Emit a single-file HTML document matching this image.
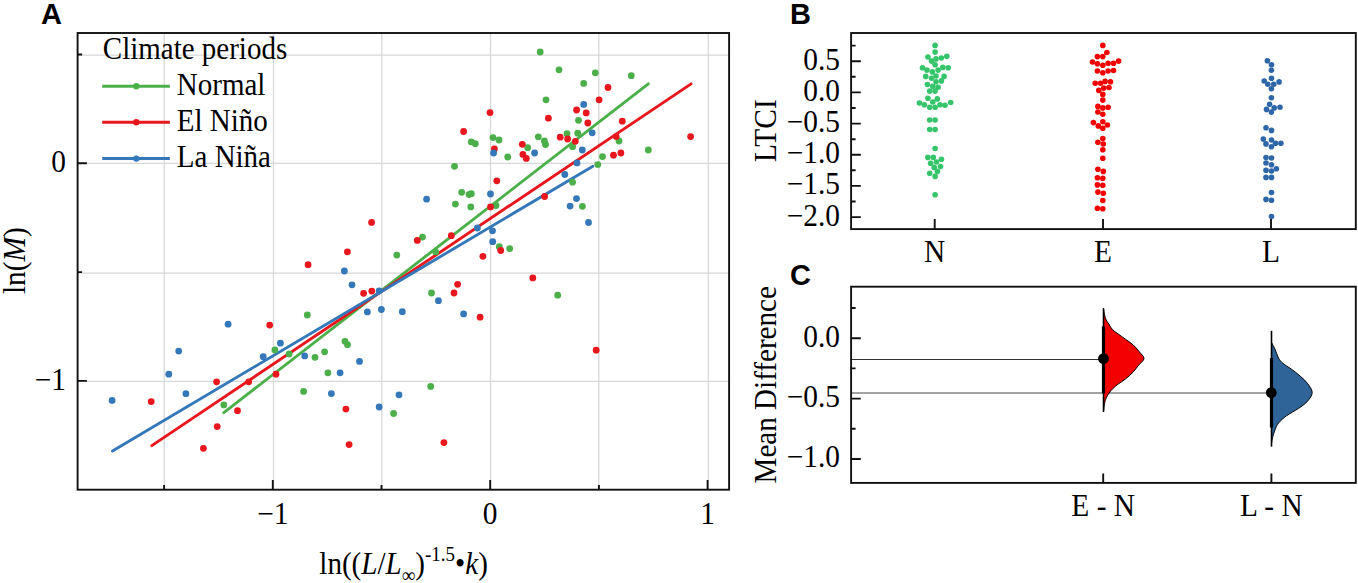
<!DOCTYPE html>
<html><head><meta charset="utf-8"><title>Figure</title>
<style>html,body{margin:0;padding:0;background:#fff;width:1358px;height:583px;overflow:hidden}svg{display:block}</style>
</head><body><svg width="1358" height="583" viewBox="0 0 1358 583"><path d="M164.2 33.0V489.7M273.5 33.0V489.7M381.8 33.0V489.7M490.5 33.0V489.7M598.8 33.0V489.7M708.3 33.0V489.7M77.6 55.2H729.1M77.6 163.4H729.1M77.6 273.2H729.1M77.6 381.4H729.1" stroke="#d8d8d8" stroke-width="1.3" fill="none"/><line x1="223.8" y1="412.6" x2="648.3" y2="83.9" stroke="#4cb04a" stroke-width="2.9" stroke-linecap="round"/><line x1="151.8" y1="445.6" x2="691.1" y2="83.9" stroke="#e8171d" stroke-width="2.9" stroke-linecap="round"/><line x1="112.5" y1="451.0" x2="592.9" y2="166.2" stroke="#3478b9" stroke-width="2.9" stroke-linecap="round"/><circle cx="540.2" cy="52" r="3.4" fill="#4cb04a"/><circle cx="559" cy="69.8" r="3.4" fill="#4cb04a"/><circle cx="595.3" cy="72.8" r="3.4" fill="#4cb04a"/><circle cx="583.7" cy="83.4" r="3.4" fill="#4cb04a"/><circle cx="546" cy="99.8" r="3.4" fill="#4cb04a"/><circle cx="578.5" cy="120.3" r="3.4" fill="#4cb04a"/><circle cx="567" cy="133.7" r="3.4" fill="#4cb04a"/><circle cx="577.7" cy="133.2" r="3.4" fill="#4cb04a"/><circle cx="538.3" cy="136.8" r="3.4" fill="#4cb04a"/><circle cx="544.4" cy="141" r="3.4" fill="#4cb04a"/><circle cx="545.5" cy="144.5" r="3.4" fill="#4cb04a"/><circle cx="493" cy="137.6" r="3.4" fill="#4cb04a"/><circle cx="499" cy="140" r="3.4" fill="#4cb04a"/><circle cx="471.3" cy="141.9" r="3.4" fill="#4cb04a"/><circle cx="475.3" cy="143.7" r="3.4" fill="#4cb04a"/><circle cx="527.7" cy="147.7" r="3.4" fill="#4cb04a"/><circle cx="507.7" cy="157" r="3.4" fill="#4cb04a"/><circle cx="572.6" cy="146.7" r="3.4" fill="#4cb04a"/><circle cx="454.5" cy="166.3" r="3.4" fill="#4cb04a"/><circle cx="572.6" cy="182.2" r="3.4" fill="#4cb04a"/><circle cx="597.8" cy="164.6" r="3.4" fill="#4cb04a"/><circle cx="631.3" cy="75.7" r="3.4" fill="#4cb04a"/><circle cx="619" cy="141" r="3.4" fill="#4cb04a"/><circle cx="602.5" cy="156.6" r="3.4" fill="#4cb04a"/><circle cx="648.3" cy="150" r="3.4" fill="#4cb04a"/><circle cx="461.7" cy="192.3" r="3.4" fill="#4cb04a"/><circle cx="469.1" cy="194.5" r="3.4" fill="#4cb04a"/><circle cx="471.3" cy="193.7" r="3.4" fill="#4cb04a"/><circle cx="455.4" cy="204.1" r="3.4" fill="#4cb04a"/><circle cx="470.8" cy="206.9" r="3.4" fill="#4cb04a"/><circle cx="496" cy="205.5" r="3.4" fill="#4cb04a"/><circle cx="422.5" cy="237.1" r="3.4" fill="#4cb04a"/><circle cx="435.7" cy="251.9" r="3.4" fill="#4cb04a"/><circle cx="499.3" cy="246.7" r="3.4" fill="#4cb04a"/><circle cx="509.7" cy="248.6" r="3.4" fill="#4cb04a"/><circle cx="582.4" cy="206.3" r="3.4" fill="#4cb04a"/><circle cx="431.5" cy="293" r="3.4" fill="#4cb04a"/><circle cx="557.7" cy="295.2" r="3.4" fill="#4cb04a"/><circle cx="430.7" cy="386.4" r="3.4" fill="#4cb04a"/><circle cx="396.8" cy="255.1" r="3.4" fill="#4cb04a"/><circle cx="307.3" cy="315" r="3.4" fill="#4cb04a"/><circle cx="345" cy="341.3" r="3.4" fill="#4cb04a"/><circle cx="347.5" cy="344.7" r="3.4" fill="#4cb04a"/><circle cx="274.9" cy="349.9" r="3.4" fill="#4cb04a"/><circle cx="289.1" cy="354" r="3.4" fill="#4cb04a"/><circle cx="315" cy="357.3" r="3.4" fill="#4cb04a"/><circle cx="324.6" cy="351.8" r="3.4" fill="#4cb04a"/><circle cx="327.9" cy="372.8" r="3.4" fill="#4cb04a"/><circle cx="303.6" cy="391.4" r="3.4" fill="#4cb04a"/><circle cx="393.6" cy="413.5" r="3.4" fill="#4cb04a"/><circle cx="223.8" cy="404.9" r="3.4" fill="#4cb04a"/><circle cx="490" cy="112.6" r="3.4" fill="#e8171d"/><circle cx="463.6" cy="131.5" r="3.4" fill="#e8171d"/><circle cx="548.4" cy="118.2" r="3.4" fill="#e8171d"/><circle cx="576.6" cy="110" r="3.4" fill="#e8171d"/><circle cx="586.2" cy="112.9" r="3.4" fill="#e8171d"/><circle cx="587.8" cy="123" r="3.4" fill="#e8171d"/><circle cx="599.1" cy="99.8" r="3.4" fill="#e8171d"/><circle cx="560.2" cy="137.2" r="3.4" fill="#e8171d"/><circle cx="567.6" cy="139" r="3.4" fill="#e8171d"/><circle cx="575.3" cy="141.3" r="3.4" fill="#e8171d"/><circle cx="522.3" cy="144.3" r="3.4" fill="#e8171d"/><circle cx="522.9" cy="154.4" r="3.4" fill="#e8171d"/><circle cx="526.3" cy="158.4" r="3.4" fill="#e8171d"/><circle cx="494.4" cy="149" r="3.4" fill="#e8171d"/><circle cx="496.8" cy="180.8" r="3.4" fill="#e8171d"/><circle cx="608" cy="87.5" r="3.4" fill="#e8171d"/><circle cx="622.3" cy="121.2" r="3.4" fill="#e8171d"/><circle cx="616.2" cy="136.6" r="3.4" fill="#e8171d"/><circle cx="613.5" cy="155.2" r="3.4" fill="#e8171d"/><circle cx="620.9" cy="153" r="3.4" fill="#e8171d"/><circle cx="690.6" cy="136.6" r="3.4" fill="#e8171d"/><circle cx="490.5" cy="206.9" r="3.4" fill="#e8171d"/><circle cx="544.6" cy="196.5" r="3.4" fill="#e8171d"/><circle cx="451.3" cy="235.7" r="3.4" fill="#e8171d"/><circle cx="417.3" cy="240.4" r="3.4" fill="#e8171d"/><circle cx="500.7" cy="250.5" r="3.4" fill="#e8171d"/><circle cx="482.9" cy="256.3" r="3.4" fill="#e8171d"/><circle cx="532.8" cy="277.9" r="3.4" fill="#e8171d"/><circle cx="457.6" cy="284.3" r="3.4" fill="#e8171d"/><circle cx="454" cy="293" r="3.4" fill="#e8171d"/><circle cx="480.1" cy="317.2" r="3.4" fill="#e8171d"/><circle cx="596.2" cy="350.2" r="3.4" fill="#e8171d"/><circle cx="443.9" cy="442.6" r="3.4" fill="#e8171d"/><circle cx="371.6" cy="222.4" r="3.4" fill="#e8171d"/><circle cx="347.4" cy="251.8" r="3.4" fill="#e8171d"/><circle cx="308.1" cy="264.7" r="3.4" fill="#e8171d"/><circle cx="363.6" cy="293.3" r="3.4" fill="#e8171d"/><circle cx="371.8" cy="291.1" r="3.4" fill="#e8171d"/><circle cx="269.7" cy="325.1" r="3.4" fill="#e8171d"/><circle cx="276" cy="374.2" r="3.4" fill="#e8171d"/><circle cx="248.7" cy="381.8" r="3.4" fill="#e8171d"/><circle cx="345.9" cy="409.1" r="3.4" fill="#e8171d"/><circle cx="349.1" cy="444.6" r="3.4" fill="#e8171d"/><circle cx="216.6" cy="381.8" r="3.4" fill="#e8171d"/><circle cx="151.2" cy="401.6" r="3.4" fill="#e8171d"/><circle cx="237.5" cy="410.7" r="3.4" fill="#e8171d"/><circle cx="217.2" cy="426.6" r="3.4" fill="#e8171d"/><circle cx="203.4" cy="448.3" r="3.4" fill="#e8171d"/><circle cx="583.7" cy="104.4" r="3.4" fill="#3478b9"/><circle cx="592.2" cy="132.8" r="3.4" fill="#3478b9"/><circle cx="582.3" cy="150" r="3.4" fill="#3478b9"/><circle cx="534.6" cy="153" r="3.4" fill="#3478b9"/><circle cx="493.6" cy="153" r="3.4" fill="#3478b9"/><circle cx="577" cy="162.9" r="3.4" fill="#3478b9"/><circle cx="564.8" cy="174.5" r="3.4" fill="#3478b9"/><circle cx="490.5" cy="194" r="3.4" fill="#3478b9"/><circle cx="576.5" cy="198.6" r="3.4" fill="#3478b9"/><circle cx="426.6" cy="199.2" r="3.4" fill="#3478b9"/><circle cx="477.4" cy="228" r="3.4" fill="#3478b9"/><circle cx="492.5" cy="230.8" r="3.4" fill="#3478b9"/><circle cx="492.7" cy="241.7" r="3.4" fill="#3478b9"/><circle cx="570.1" cy="206.1" r="3.4" fill="#3478b9"/><circle cx="588.5" cy="222.5" r="3.4" fill="#3478b9"/><circle cx="438.4" cy="300.7" r="3.4" fill="#3478b9"/><circle cx="402.3" cy="311.7" r="3.4" fill="#3478b9"/><circle cx="463.6" cy="313.9" r="3.4" fill="#3478b9"/><circle cx="344.4" cy="271" r="3.4" fill="#3478b9"/><circle cx="352" cy="284.8" r="3.4" fill="#3478b9"/><circle cx="379.2" cy="290.8" r="3.4" fill="#3478b9"/><circle cx="367.4" cy="311.9" r="3.4" fill="#3478b9"/><circle cx="381.4" cy="309.5" r="3.4" fill="#3478b9"/><circle cx="280.4" cy="343.2" r="3.4" fill="#3478b9"/><circle cx="263.2" cy="356.7" r="3.4" fill="#3478b9"/><circle cx="304.7" cy="355.9" r="3.4" fill="#3478b9"/><circle cx="340.1" cy="372.8" r="3.4" fill="#3478b9"/><circle cx="359.5" cy="361.4" r="3.4" fill="#3478b9"/><circle cx="331.4" cy="393.6" r="3.4" fill="#3478b9"/><circle cx="379.2" cy="407" r="3.4" fill="#3478b9"/><circle cx="399" cy="394.8" r="3.4" fill="#3478b9"/><circle cx="228.1" cy="324.2" r="3.4" fill="#3478b9"/><circle cx="178.7" cy="351.1" r="3.4" fill="#3478b9"/><circle cx="168.8" cy="374.2" r="3.4" fill="#3478b9"/><circle cx="185.9" cy="393.7" r="3.4" fill="#3478b9"/><circle cx="112.1" cy="400.4" r="3.4" fill="#3478b9"/><rect x="77.6" y="33.0" width="651.5" height="456.7" fill="none" stroke="#111" stroke-width="1.9"/><path d="M77.6 163.3h9.3M77.6 380.9h9.3M77.6 54.5h4.5M77.6 272.1h4.5M272.8 489.7v-9.7M490.2 489.7v-9.7M707.6 489.7v-9.7M164.1 489.7v-4.7M381.5 489.7v-4.7M598.9 489.7v-4.7" stroke="#111" stroke-width="1.9" fill="none"/><g font-family='"Liberation Serif", serif' font-size="29.4" fill="#000"><text transform="translate(66 172.3) scale(1 1.06)" text-anchor="end">0</text><text transform="translate(66 389.9) scale(1 1.06)" text-anchor="end">−1</text><text transform="translate(272.8 523.7) scale(1 1.06)" text-anchor="middle">−1</text><text transform="translate(490.2 523.7) scale(1 1.06)" text-anchor="middle">0</text><text transform="translate(707.6 523.7) scale(1 1.06)" text-anchor="middle">1</text><text transform="translate(25.2 260.6) rotate(-90) scale(1 1.06)" text-anchor="middle">ln(<tspan font-style="italic">M</tspan>)</text><text transform="translate(319.3 573.6) scale(1 1.06)" font-size="29.1">ln((<tspan font-style="italic">L</tspan>/<tspan font-style="italic">L</tspan><tspan font-size="19" dy="8">∞</tspan><tspan dy="-8">)</tspan><tspan font-size="19" dy="-12">-1.5</tspan><tspan dy="12">•</tspan><tspan font-style="italic">k</tspan>)</text><text transform="translate(102.8 58.5) scale(1 1.06)" font-size="29">Climate periods</text><text transform="translate(176.8 94.5) scale(1 1.06)" font-size="29">Normal</text><text transform="translate(176.8 131) scale(1 1.06)" font-size="29">El Niño</text><text transform="translate(176.8 167) scale(1 1.06)" font-size="29">La Niña</text></g><line x1="102.2" y1="86.2" x2="169.9" y2="86.2" stroke="#4cb04a" stroke-width="3"/><circle cx="136.3" cy="86.2" r="3.2" fill="#4cb04a"/><line x1="102.2" y1="122.3" x2="169.9" y2="122.3" stroke="#e8171d" stroke-width="3"/><circle cx="136.3" cy="122.3" r="3.2" fill="#e8171d"/><line x1="102.2" y1="158.6" x2="169.9" y2="158.6" stroke="#3478b9" stroke-width="3"/><circle cx="136.3" cy="158.6" r="3.2" fill="#3478b9"/><circle cx="935.1" cy="45.4" r="2.8" fill="#36c46b"/><circle cx="935.1" cy="52.1" r="2.8" fill="#36c46b"/><circle cx="927.9" cy="57" r="2.8" fill="#36c46b"/><circle cx="931.5" cy="61.1" r="2.8" fill="#36c46b"/><circle cx="936" cy="58.9" r="2.8" fill="#36c46b"/><circle cx="941.4" cy="58" r="2.8" fill="#36c46b"/><circle cx="946.8" cy="56.2" r="2.8" fill="#36c46b"/><circle cx="935.1" cy="64.7" r="2.8" fill="#36c46b"/><circle cx="922.5" cy="67.8" r="2.8" fill="#36c46b"/><circle cx="927" cy="70.1" r="2.8" fill="#36c46b"/><circle cx="932.4" cy="71.9" r="2.8" fill="#36c46b"/><circle cx="938.1" cy="70.1" r="2.8" fill="#36c46b"/><circle cx="942.8" cy="67.4" r="2.8" fill="#36c46b"/><circle cx="948.2" cy="67.8" r="2.8" fill="#36c46b"/><circle cx="925.7" cy="76.4" r="2.8" fill="#36c46b"/><circle cx="931.5" cy="78.2" r="2.8" fill="#36c46b"/><circle cx="936" cy="76" r="2.8" fill="#36c46b"/><circle cx="941.4" cy="80.9" r="2.8" fill="#36c46b"/><circle cx="944.1" cy="76.4" r="2.8" fill="#36c46b"/><circle cx="936" cy="81.8" r="2.8" fill="#36c46b"/><circle cx="927.4" cy="84.5" r="2.8" fill="#36c46b"/><circle cx="932.8" cy="86.3" r="2.8" fill="#36c46b"/><circle cx="938.1" cy="87.2" r="2.8" fill="#36c46b"/><circle cx="929.7" cy="91.1" r="2.8" fill="#36c46b"/><circle cx="935.1" cy="91.1" r="2.8" fill="#36c46b"/><circle cx="927.9" cy="98.3" r="2.8" fill="#36c46b"/><circle cx="937.3" cy="98.9" r="2.8" fill="#36c46b"/><circle cx="932.8" cy="102" r="2.8" fill="#36c46b"/><circle cx="919.4" cy="103" r="2.8" fill="#36c46b"/><circle cx="924.3" cy="104.8" r="2.8" fill="#36c46b"/><circle cx="929.7" cy="107.3" r="2.8" fill="#36c46b"/><circle cx="935.1" cy="107.3" r="2.8" fill="#36c46b"/><circle cx="940" cy="104.8" r="2.8" fill="#36c46b"/><circle cx="945" cy="105.2" r="2.8" fill="#36c46b"/><circle cx="950.7" cy="102.5" r="2.8" fill="#36c46b"/><circle cx="929.7" cy="120" r="2.8" fill="#36c46b"/><circle cx="935.1" cy="120" r="2.8" fill="#36c46b"/><circle cx="929.7" cy="129.5" r="2.8" fill="#36c46b"/><circle cx="935.1" cy="129.5" r="2.8" fill="#36c46b"/><circle cx="935.1" cy="148.5" r="2.8" fill="#36c46b"/><circle cx="927.9" cy="157.4" r="2.8" fill="#36c46b"/><circle cx="933.3" cy="157.4" r="2.8" fill="#36c46b"/><circle cx="941.4" cy="159.3" r="2.8" fill="#36c46b"/><circle cx="930.6" cy="163.3" r="2.8" fill="#36c46b"/><circle cx="936.5" cy="162" r="2.8" fill="#36c46b"/><circle cx="940.5" cy="166.5" r="2.8" fill="#36c46b"/><circle cx="934.2" cy="167.4" r="2.8" fill="#36c46b"/><circle cx="937.4" cy="171.4" r="2.8" fill="#36c46b"/><circle cx="929.7" cy="173.2" r="2.8" fill="#36c46b"/><circle cx="935.1" cy="176.4" r="2.8" fill="#36c46b"/><circle cx="935.1" cy="194.8" r="2.8" fill="#36c46b"/><circle cx="1102.8" cy="45.4" r="2.8" fill="#f20000"/><circle cx="1106.9" cy="52.5" r="2.8" fill="#f20000"/><circle cx="1097.4" cy="56.6" r="2.8" fill="#f20000"/><circle cx="1102.8" cy="56.6" r="2.8" fill="#f20000"/><circle cx="1092.5" cy="62" r="2.8" fill="#f20000"/><circle cx="1097.4" cy="63.8" r="2.8" fill="#f20000"/><circle cx="1102.8" cy="65.2" r="2.8" fill="#f20000"/><circle cx="1108.1" cy="63.3" r="2.8" fill="#f20000"/><circle cx="1113.5" cy="63.3" r="2.8" fill="#f20000"/><circle cx="1118.6" cy="61.1" r="2.8" fill="#f20000"/><circle cx="1097.4" cy="71" r="2.8" fill="#f20000"/><circle cx="1102.8" cy="72.8" r="2.8" fill="#f20000"/><circle cx="1108.1" cy="71" r="2.8" fill="#f20000"/><circle cx="1113.5" cy="70.5" r="2.8" fill="#f20000"/><circle cx="1095.2" cy="83.2" r="2.8" fill="#f20000"/><circle cx="1100.6" cy="83.2" r="2.8" fill="#f20000"/><circle cx="1105.1" cy="81.4" r="2.8" fill="#f20000"/><circle cx="1110.5" cy="81.8" r="2.8" fill="#f20000"/><circle cx="1098.8" cy="90.4" r="2.8" fill="#f20000"/><circle cx="1103.7" cy="88.1" r="2.8" fill="#f20000"/><circle cx="1109" cy="87.5" r="2.8" fill="#f20000"/><circle cx="1102.8" cy="94.4" r="2.8" fill="#f20000"/><circle cx="1102.8" cy="100.1" r="2.8" fill="#f20000"/><circle cx="1097.9" cy="106.4" r="2.8" fill="#f20000"/><circle cx="1102.8" cy="107.9" r="2.8" fill="#f20000"/><circle cx="1108.1" cy="107.3" r="2.8" fill="#f20000"/><circle cx="1097.9" cy="112" r="2.8" fill="#f20000"/><circle cx="1102.8" cy="114.2" r="2.8" fill="#f20000"/><circle cx="1093.4" cy="122.6" r="2.8" fill="#f20000"/><circle cx="1102.8" cy="121.7" r="2.8" fill="#f20000"/><circle cx="1098.3" cy="125.9" r="2.8" fill="#f20000"/><circle cx="1107.4" cy="125" r="2.8" fill="#f20000"/><circle cx="1102.8" cy="128.2" r="2.8" fill="#f20000"/><circle cx="1102.8" cy="138.5" r="2.8" fill="#f20000"/><circle cx="1097.9" cy="142.2" r="2.8" fill="#f20000"/><circle cx="1103.3" cy="144" r="2.8" fill="#f20000"/><circle cx="1102.8" cy="149.8" r="2.8" fill="#f20000"/><circle cx="1102.8" cy="158.3" r="2.8" fill="#f20000"/><circle cx="1097.9" cy="169.2" r="2.8" fill="#f20000"/><circle cx="1103.3" cy="171.4" r="2.8" fill="#f20000"/><circle cx="1097.4" cy="177.7" r="2.8" fill="#f20000"/><circle cx="1102.8" cy="178.2" r="2.8" fill="#f20000"/><circle cx="1097.4" cy="184.9" r="2.8" fill="#f20000"/><circle cx="1102.8" cy="185.2" r="2.8" fill="#f20000"/><circle cx="1097.9" cy="192.1" r="2.8" fill="#f20000"/><circle cx="1103.3" cy="193.3" r="2.8" fill="#f20000"/><circle cx="1102.8" cy="200.5" r="2.8" fill="#f20000"/><circle cx="1097.4" cy="208.3" r="2.8" fill="#f20000"/><circle cx="1102.8" cy="208.8" r="2.8" fill="#f20000"/><circle cx="1267.4" cy="60.8" r="2.8" fill="#2e67a8"/><circle cx="1271.5" cy="64.8" r="2.8" fill="#2e67a8"/><circle cx="1271.4" cy="70.2" r="2.8" fill="#2e67a8"/><circle cx="1271.5" cy="78.3" r="2.8" fill="#2e67a8"/><circle cx="1264.2" cy="81" r="2.8" fill="#2e67a8"/><circle cx="1267.8" cy="84.2" r="2.8" fill="#2e67a8"/><circle cx="1273.7" cy="84.2" r="2.8" fill="#2e67a8"/><circle cx="1279.1" cy="81.9" r="2.8" fill="#2e67a8"/><circle cx="1271.4" cy="88.7" r="2.8" fill="#2e67a8"/><circle cx="1271.4" cy="97.7" r="2.8" fill="#2e67a8"/><circle cx="1269.6" cy="104.3" r="2.8" fill="#2e67a8"/><circle cx="1266.5" cy="109.4" r="2.8" fill="#2e67a8"/><circle cx="1274.2" cy="107.9" r="2.8" fill="#2e67a8"/><circle cx="1280" cy="107.2" r="2.8" fill="#2e67a8"/><circle cx="1271.4" cy="112.1" r="2.8" fill="#2e67a8"/><circle cx="1266" cy="127.7" r="2.8" fill="#2e67a8"/><circle cx="1271.5" cy="130.4" r="2.8" fill="#2e67a8"/><circle cx="1263.3" cy="139.1" r="2.8" fill="#2e67a8"/><circle cx="1271.5" cy="140" r="2.8" fill="#2e67a8"/><circle cx="1266" cy="143.9" r="2.8" fill="#2e67a8"/><circle cx="1275.5" cy="143.2" r="2.8" fill="#2e67a8"/><circle cx="1280.9" cy="143.2" r="2.8" fill="#2e67a8"/><circle cx="1271.4" cy="146.8" r="2.8" fill="#2e67a8"/><circle cx="1266" cy="157.5" r="2.8" fill="#2e67a8"/><circle cx="1271.5" cy="158" r="2.8" fill="#2e67a8"/><circle cx="1266" cy="163" r="2.8" fill="#2e67a8"/><circle cx="1271.5" cy="164.8" r="2.8" fill="#2e67a8"/><circle cx="1266" cy="170.2" r="2.8" fill="#2e67a8"/><circle cx="1271.5" cy="171" r="2.8" fill="#2e67a8"/><circle cx="1276.4" cy="168.8" r="2.8" fill="#2e67a8"/><circle cx="1266" cy="177.4" r="2.8" fill="#2e67a8"/><circle cx="1271.5" cy="177.4" r="2.8" fill="#2e67a8"/><circle cx="1271.5" cy="192.5" r="2.8" fill="#2e67a8"/><circle cx="1266" cy="199.4" r="2.8" fill="#2e67a8"/><circle cx="1271.5" cy="200.3" r="2.8" fill="#2e67a8"/><circle cx="1271.5" cy="216.5" r="2.8" fill="#2e67a8"/><rect x="851.1" y="33.0" width="504.7" height="196.1" fill="none" stroke="#111" stroke-width="1.9"/><path d="M851.1 61.2h9.7M851.1 92.4h9.7M851.1 123.6h9.7M851.1 154.8h9.7M851.1 185.9h9.7M851.1 217.1h9.7M851.1 45.6h4.5M851.1 76.8h4.5M851.1 108.0h4.5M851.1 139.2h4.5M851.1 170.3h4.5M851.1 201.5h4.5M934.7 229.1v-10M1103.0 229.1v-10M1271.0 229.1v-10" stroke="#111" stroke-width="1.9" fill="none"/><g font-family='"Liberation Serif", serif' font-size="29.4" fill="#000"><text transform="translate(840 69.6) scale(1 1.06)" text-anchor="end">0.5</text><text transform="translate(840 100.8) scale(1 1.06)" text-anchor="end">0.0</text><text transform="translate(840 132.0) scale(1 1.06)" text-anchor="end">−0.5</text><text transform="translate(840 163.2) scale(1 1.06)" text-anchor="end">−1.0</text><text transform="translate(840 194.3) scale(1 1.06)" text-anchor="end">−1.5</text><text transform="translate(840 225.5) scale(1 1.06)" text-anchor="end">−2.0</text><text transform="translate(934.7 262) scale(1 1.06)" text-anchor="middle">N</text><text transform="translate(1103.0 262) scale(1 1.06)" text-anchor="middle">E</text><text transform="translate(1271.0 262) scale(1 1.06)" text-anchor="middle">L</text><text transform="translate(776.4 130.6) rotate(-90) scale(1 1.06)" text-anchor="middle">LTCI</text></g><line x1="851.1" y1="359.5" x2="1103.3" y2="359.5" stroke="#333" stroke-width="1"/><line x1="851.1" y1="393" x2="1271.5" y2="393" stroke="#444" stroke-width="1"/><path d="M1103.5 308.4C1103.7 309.4 1104.0 312.8 1104.5 314.7C1105.0 316.6 1105.5 318.4 1106.2 320.0C1106.9 321.6 1107.9 322.5 1108.9 324.1C1109.9 325.7 1110.9 328.0 1112.4 329.6C1113.9 331.2 1115.7 332.1 1117.9 333.7C1120.1 335.3 1122.9 337.4 1125.4 339.2C1127.9 341.0 1130.7 342.6 1133.0 344.7C1135.3 346.8 1137.3 349.3 1139.1 351.6C1140.9 353.9 1144.1 356.2 1144.0 358.5C1143.9 360.8 1140.3 363.0 1138.5 365.3C1136.7 367.6 1135.2 369.9 1133.0 372.2C1130.8 374.5 1127.9 377.1 1125.4 379.1C1122.9 381.1 1119.9 382.7 1117.8 384.3C1115.7 385.9 1114.4 387.1 1112.9 388.5C1111.5 389.9 1110.2 391.4 1109.1 393.0C1108.0 394.6 1107.0 396.1 1106.3 397.8C1105.5 399.5 1105.1 401.0 1104.6 403.3C1104.1 405.6 1103.7 410.2 1103.5 411.6Z" fill="#f30000" stroke="#000" stroke-width="1"/><path d="M1271.6 342.7C1272.1 343.8 1273.8 346.4 1274.9 349.0C1276.1 351.6 1277.2 355.6 1278.5 358.0C1279.8 360.4 1280.9 361.6 1283.0 363.4C1285.1 365.2 1288.2 366.8 1291.1 368.9C1294.0 371.0 1297.5 373.7 1300.2 376.1C1302.9 378.5 1305.4 380.6 1307.4 383.3C1309.4 386.0 1312.2 389.5 1312.2 392.5C1312.2 395.5 1309.7 398.6 1307.4 401.3C1305.1 404.0 1301.9 406.1 1298.4 408.5C1294.9 410.9 1289.9 413.3 1286.6 415.7C1283.3 418.1 1280.5 420.6 1278.5 423.0C1276.5 425.4 1275.9 427.8 1274.9 430.2C1273.9 432.6 1273.1 435.3 1272.6 437.4C1272.0 439.5 1271.8 441.9 1271.6 442.8Z" fill="#2f6499" stroke="#000" stroke-width="1"/><line x1="1103.5" y1="308.4" x2="1103.5" y2="411.8" stroke="#000" stroke-width="1.6"/><line x1="1271.5" y1="330.8" x2="1271.5" y2="446.7" stroke="#000" stroke-width="1.6"/><line x1="1103.5" y1="326.4" x2="1103.5" y2="393.4" stroke="#000" stroke-width="3.2"/><line x1="1271.5" y1="358" x2="1271.5" y2="427.5" stroke="#000" stroke-width="3.2"/><circle cx="1103.5" cy="358.6" r="5.4" fill="#000"/><circle cx="1271.3" cy="392.6" r="5.4" fill="#000"/><rect x="851.1" y="286.7" width="504.7" height="196.2" fill="none" stroke="#111" stroke-width="1.9"/><path d="M851.1 338.2h9.7M851.1 398.6h9.7M851.1 459.0h9.7M851.1 308.0h4.5M851.1 368.4h4.5M851.1 428.8h4.5M1103.2 482.9v-9.5M1271.4 482.9v-9.5" stroke="#111" stroke-width="1.9" fill="none"/><g font-family='"Liberation Serif", serif' font-size="29.4" fill="#000"><text transform="translate(840 346.6) scale(1 1.06)" text-anchor="end">0.0</text><text transform="translate(840 407.0) scale(1 1.06)" text-anchor="end">−0.5</text><text transform="translate(840 467.4) scale(1 1.06)" text-anchor="end">−1.0</text><text transform="translate(1103.2 516) scale(1 1.06)" text-anchor="middle">E - N</text><text transform="translate(1271.4 516) scale(1 1.06)" text-anchor="middle">L - N</text><text transform="translate(776 384.8) rotate(-90) scale(1 1.06)" text-anchor="middle" font-size="29.1">Mean Difference</text></g><g font-family='"Liberation Sans", sans-serif' font-size="29" font-weight="bold" fill="#000"><text y="24.4" x="41">A</text><text y="24" x="790">B</text><text y="285.2" x="790">C</text></g></svg></body></html>
